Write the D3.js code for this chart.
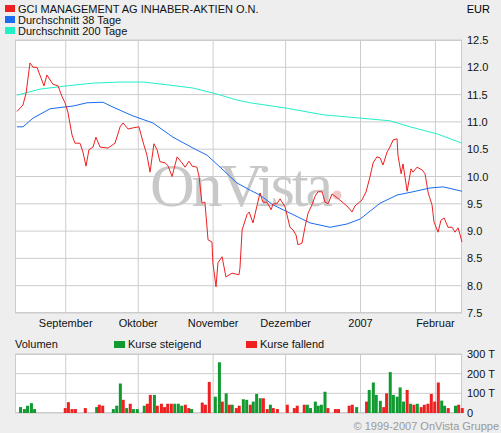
<!DOCTYPE html>
<html><head><meta charset="utf-8">
<script src="https://cdn.jsdelivr.net/npm/d3@7"></script>
<style>body{margin:0;background:#eeeeee}svg{display:block}text{font-family:"Liberation Sans",Arial,sans-serif}</style>
</head><body><svg id="c" width="501" height="433"></svg>
<script>
// days since 2006-08-11
const priceDays=[0.8,3.3,4.6,6.2,7.5,9.1,10.8,12.0,13.2,15.7,17.8,19.5,20.7,21.9,23.6,24.8,26.9,28.1,29.4,30.6,32.3,33.5,35.2,38.5,41.4,43.5,44.7,46.8,48.8,51.3,53.0,54.6,55.9,57.5,58.8,60.0,62.1,63.3,65.0,67.1,69.1,70.4,72.0,73.3,75.3,76.2,77.4,78.6,79.9,81.5,81.9,83.2,84.0,85.7,87.3,89.8,92.7,93.1,94.0,96.0,96.9,98.5,101.4,102.6,104.3,106.0,106.8,108.4,109.7,111.8,113.8,115.1,116.3,117.1,118.8,120.0,121.3,122.9,124.2,125.4,127.1,128.3,129.6,131.2,133.3,135.8,137.8,139.5,140.7,143.6,145.3,146.9,148.2,149.8,151.1,152.3,154.0,155.2,156.5,158.1,158.5,159.8,160.6,161.4,162.3,163.9,164.7,166.4,168.5,169.7,171.0,172.6,173.4,175.1,176.3,177.6,179.2,180.9,182.1,183.4,185.0];
const priceVals=[11.19,11.31,11.53,12.08,12.0,12.0,11.8,11.66,11.86,11.69,11.66,11.46,11.35,11.18,10.76,10.61,10.61,10.45,10.19,10.49,10.54,10.72,10.54,10.52,10.61,10.91,10.98,10.87,10.89,10.91,10.63,10.39,10.08,10.6,10.49,10.27,10.25,10.2,10.0,10.36,10.25,10.17,10.28,10.19,10.17,9.99,9.51,9.53,8.84,8.8,8.42,7.98,8.42,8.53,8.16,8.23,8.2,8.32,9.02,9.3,9.35,9.15,9.7,9.53,9.53,9.39,9.5,9.5,9.59,9.44,9.07,9.02,8.93,8.75,8.78,9.07,9.33,9.48,9.64,9.72,9.72,9.53,9.5,9.68,9.61,9.52,9.44,9.35,9.46,9.57,9.72,9.99,10.25,10.36,10.34,10.21,10.45,10.54,10.67,10.69,10.39,10.05,10.23,9.99,9.73,10.14,10.08,10.17,10.12,10.05,9.7,9.48,9.17,8.98,9.2,9.24,9.07,9.07,8.98,9.06,8.8];
const ma38Days=[0.8,3.3,7.5,14.5,19.9,24.0,29.8,36.4,40.6,48.8,57.1,65.4,73.7,79.5,84.9,91.9,97.3,101.4,106.8,113.8,122.1,130.4,137.4,142.8,151.1,158.1,164.7,171.8,177.2,185];
const ma38Vals=[10.91,10.91,11.07,11.24,11.27,11.29,11.35,11.36,11.27,11.11,10.98,10.72,10.52,10.39,10.17,9.88,9.75,9.66,9.48,9.33,9.15,9.07,9.13,9.22,9.51,9.66,9.72,9.79,9.81,9.73];
const ma200Days=[0.8,10.3,21.5,32.3,43.5,53,62.9,73.7,83.6,91.9,97.3,112.6,127.5,142.8,155.2,163.5,174.7,185];
const ma200Vals=[11.49,11.6,11.66,11.71,11.73,11.73,11.68,11.62,11.51,11.4,11.35,11.25,11.13,11.07,11.02,10.91,10.78,10.61];
const volDays=[2.3,3.9,5.2,6.8,8.1,20.8,22.1,23.6,25.0,29.1,33.8,34.9,36.3,40.7,42.1,43.6,44.8,46.2,47.7,49.0,50.6,53.5,54.8,56.0,57.7,58.9,60.6,61.9,63.2,64.7,66.1,67.6,69.0,70.5,71.9,73.1,77.5,78.8,80.4,82.9,84.6,85.8,87.4,88.7,89.9,91.6,92.8,94.5,95.9,97.4,98.6,100.0,101.5,102.8,104.4,105.7,106.9,108.6,112.7,115.6,116.8,119.7,121.0,122.3,124.3,125.5,126.8,128.3,129.5,132.6,133.9,138.3,139.6,141.4,145.5,146.6,148.3,149.5,151.2,152.6,153.8,155.3,156.6,158.2,159.4,160.8,162.3,163.7,165.1,166.5,168.1,169.4,170.9,172.3,173.7,175.2,176.6,177.8,179.3,182.3,183.6,185.1];
const volVals=[30,20,37,50,20,25,55,20,20,25,30,42,37,20,37,150,67,25,47,20,20,37,47,92,92,37,47,30,47,47,47,47,37,42,25,20,53,42,158,83,258,58,100,42,42,25,37,70,67,42,58,97,75,75,20,42,25,20,42,25,37,42,42,25,58,37,42,108,25,20,20,37,42,30,58,117,155,92,62,30,100,208,92,83,130,58,117,47,42,47,30,42,47,97,58,155,63,37,25,37,42,25];
const volUp="gggggrrrrrgrrgggrgrgggrrgrrrrrgggrrgrrrggrgrgrrggrgggrrgrrrrrrggggggrrrrrgrggggrrgggggrgrgrrrrrrggrgr";
const monthDays=[21,51,82,112,143,174];
const monthLabels=["September","Oktober","November","Dezember","2007","Februar"];
const priceTicks=[7.5,8.0,8.5,9.0,9.5,10.0,10.5,11.0,11.5,12.0,12.5];
const volTicks=[0,100,200,300];
const volTickLabels=["0","100 T","200 T","300 T"];

const svg=d3.select("#c");
const RED="#ee2020",GREEN="#109a30",BLUE="#1a6cf0",CYAN="#20f0c8",GRID="#cccccc";
const x=d3.scaleLinear().domain([0,185]).range([15,462]);
const y=d3.scaleLinear().domain([7.5,12.5]).range([313,40]);
const yv=d3.scaleLinear().domain([0,300]).range([413,354]);

const leg=[["GCI MANAGEMENT AG INHABER-AKTIEN O.N.",RED],["Durchschnitt 38 Tage",BLUE],["Durchschnitt 200 Tage",CYAN]];
leg.forEach((l,i)=>{svg.append("rect").attr("x",5).attr("y",5+i*11).attr("width",10).attr("height",7).attr("fill",l[1]);
 svg.append("text").attr("x",18).attr("y",13+i*11).attr("font-size",11).attr("fill","#111").text(l[0]);});
svg.append("text").attr("x",490).attr("y",13).attr("text-anchor","end").attr("font-size",11).text("EUR");

function panel(y0,y1,ticks,ys){
 svg.append("rect").attr("x",15).attr("y",y0).attr("width",447).attr("height",y1-y0).attr("fill","#fff");
 ticks.forEach(t=>svg.append("line").attr("x1",15).attr("x2",462).attr("y1",ys(t)).attr("y2",ys(t)).attr("stroke",GRID));
 monthDays.forEach(d=>svg.append("line").attr("x1",x(d)).attr("x2",x(d)).attr("y1",y0).attr("y2",y1).attr("stroke",GRID));
 svg.append("rect").attr("x",15.5).attr("y",y0+0.5).attr("width",446).attr("height",y1-y0-1).attr("fill","none").attr("stroke",GRID);
}
panel(40,313,priceTicks,y);
svg.append("text").attr("x",150).attr("y",206).style("font-family","'Liberation Serif','DejaVu Serif',serif").attr("font-size",62).attr("textLength",183).attr("fill","#c8c8c8").text("OnVista");
svg.append("circle").attr("cx",337).attr("cy",195).attr("r",4.5).attr("fill","#f0c8c8");
priceTicks.forEach(t=>svg.append("text").attr("x",467).attr("y",y(t)+4).attr("font-size",11).attr("fill","#111").text(t.toFixed(1)));
monthDays.forEach((d,i)=>svg.append("text").attr("x",x(d)).attr("y",327).attr("text-anchor","middle").attr("font-size",11).attr("fill","#111").text(monthLabels[i]));
const line=d3.line().x(d=>x(d[0])).y(d=>y(d[1]));
[[ma200Days,ma200Vals,CYAN],[ma38Days,ma38Vals,BLUE],[priceDays,priceVals,RED]].forEach(s=>
 svg.append("path").attr("d",line(d3.zip(s[0],s[1]))).attr("fill","none").attr("stroke",s[2]).attr("stroke-width",1));

svg.append("text").attr("x",15).attr("y",348).attr("font-size",11).attr("fill","#111").text("Volumen");
svg.append("rect").attr("x",114).attr("y",341).attr("width",11).attr("height",7).attr("fill",GREEN);
svg.append("text").attr("x",128).attr("y",348).attr("font-size",11).attr("fill","#111").text("Kurse steigend");
svg.append("rect").attr("x",246).attr("y",341).attr("width",11).attr("height",7).attr("fill",RED);
svg.append("text").attr("x",260).attr("y",348).attr("font-size",11).attr("fill","#111").text("Kurse fallend");
panel(354,413,volTicks,yv);
volDays.forEach((d,i)=>svg.append("rect").attr("x",x(d)-1.5).attr("width",3).attr("y",yv(volVals[i])).attr("height",413-yv(volVals[i])).attr("fill",volUp[i]==="g"?GREEN:RED));
volTicks.forEach((t,i)=>svg.append("text").attr("x",467).attr("y",yv(t)+4).attr("font-size",11).attr("fill","#111").text(volTickLabels[i]));
svg.append("text").attr("x",499).attr("y",430).attr("text-anchor","end").attr("font-size",11).attr("fill","#999").text("© 1999-2007 OnVista Gruppe");
</script></body></html>
